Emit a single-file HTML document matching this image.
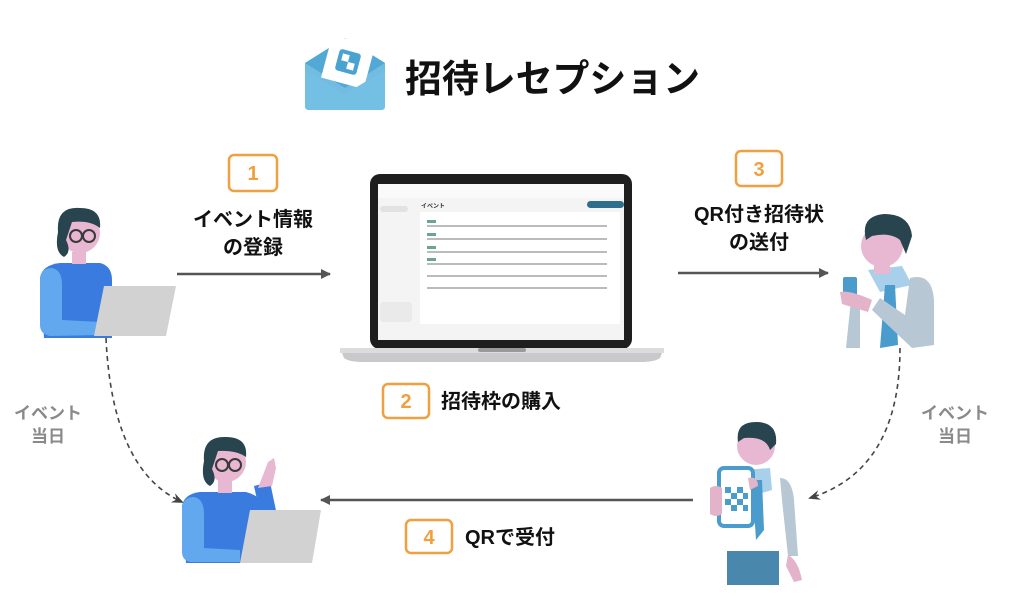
<!DOCTYPE html>
<html><head><meta charset="utf-8"><style>
html,body{margin:0;padding:0;background:#fff;}
svg{display:block;}
text{font-family:"Liberation Sans","Noto Sans CJK JP",sans-serif;}
</style></head><body>
<svg width="1024" height="607" viewBox="0 0 1024 607" xmlns="http://www.w3.org/2000/svg">
<defs>
<marker id="ah" markerWidth="10" markerHeight="10" refX="9" refY="5" orient="auto" markerUnits="userSpaceOnUse" viewBox="0 0 10 10"><path d="M0,0 L10,5 L0,10 Z" fill="#555"/></marker>
<marker id="ah2" markerWidth="12" markerHeight="10" refX="10" refY="5" orient="auto" markerUnits="userSpaceOnUse" viewBox="0 0 12 10"><path d="M0,0 L12,5 L0,10 L4,5 Z" fill="#444"/></marker>
</defs>
<!-- logo -->
<path d="M305,63 L345,38 L385,63 L385,106 Q385,110 381,110 L309,110 Q305,110 305,106 Z" fill="#72bce2"/>
<path d="M305,63 L345,38 L385,63 L345,88 Z" fill="#53a9d6"/>
<g transform="rotate(15 348 62)"><rect x="326" y="40" width="44" height="44" fill="#fff"/>
<rect x="337" y="51" width="22" height="22" rx="3" fill="#4aa2d0"/><rect x="341" y="55" width="7" height="7" fill="#fff"/><rect x="348" y="62" width="7" height="7" fill="#fff"/></g>
<path d="M305,70 L345,94 L385,70 L385,106 Q385,110 381,110 L309,110 Q305,110 305,106 Z" fill="#74bfe4"/>
<text x="405" y="92" font-size="38" font-weight="bold" fill="#111" textLength="295" lengthAdjust="spacingAndGlyphs">招待レセプション</text>

<!-- step boxes -->
<g fill="none" stroke="#f0a040" stroke-width="2.5">
<rect x="229" y="155" width="48" height="36" rx="5"/>
<rect x="383" y="384" width="46" height="34" rx="5"/>
<rect x="736" y="151" width="46" height="35" rx="5"/>
<rect x="406" y="520" width="46" height="33" rx="5"/>
</g>
<g fill="#f0a040" font-size="20" font-weight="bold" text-anchor="middle">
<text x="253" y="180">1</text><text x="406" y="408">2</text><text x="759" y="176">3</text><text x="429" y="544">4</text>
</g>
<g fill="#111" font-size="20" font-weight="bold" text-anchor="middle">
<text x="253" y="226">イベント情報</text><text x="253" y="254">の登録</text>
<text x="759" y="221">QR付き招待状</text><text x="759" y="249">の送付</text>
</g>
<text x="441" y="408" font-size="20" font-weight="bold" fill="#111">招待枠の購入</text>
<text x="465" y="544" font-size="20" font-weight="bold" fill="#111">QRで受付</text>
<g fill="#8a8a8a" font-size="17" font-weight="bold" text-anchor="middle">
<text x="48" y="419">イベント</text><text x="48" y="442">当日</text>
<text x="955" y="419">イベント</text><text x="955" y="442">当日</text>
</g>

<!-- arrows -->
<g stroke="#555" stroke-width="2.5" fill="none">
<line x1="177" y1="274" x2="330" y2="274" marker-end="url(#ah)"/>
<line x1="678" y1="273" x2="828" y2="273" marker-end="url(#ah)"/>
<line x1="693" y1="500" x2="321" y2="500" marker-end="url(#ah)"/>
</g>
<g stroke="#444" stroke-width="1.6" fill="none" stroke-dasharray="5,4">
<path d="M106,338 Q112,470 182,502" marker-end="url(#ah2)"/>
<path d="M900,348 Q900,470 810,498" marker-end="url(#ah2)"/>
</g>

<!-- laptop -->
<rect x="370" y="174" width="262" height="175" rx="10" fill="#1e1e1e"/>
<rect x="378" y="184" width="246" height="156" fill="#f4f4f4"/>
<rect x="378" y="184" width="246" height="14" fill="#fafafa"/>
<rect x="420" y="212" width="200" height="112" fill="#fff"/>
<rect x="587" y="201" width="37" height="7" rx="3.5" fill="#2f6e8c"/>
<text x="421" y="208" font-size="6" font-weight="bold" fill="#333">イベント</text>
<g fill="#bbb"><rect x="427" y="225" width="180" height="2"/><rect x="427" y="238" width="180" height="2"/><rect x="427" y="251" width="180" height="2"/><rect x="427" y="263" width="180" height="2"/><rect x="427" y="275" width="180" height="2"/><rect x="427" y="287" width="180" height="2"/></g>
<g fill="#6aa39a"><rect x="427" y="220" width="9" height="3"/><rect x="427" y="233" width="9" height="3"/><rect x="427" y="246" width="9" height="3"/><rect x="427" y="258" width="9" height="3"/></g>
<rect x="380" y="206" width="28" height="6" rx="3" fill="#e2e2e2"/>
<rect x="380" y="302" width="32" height="20" rx="3" fill="#eaeaea"/>
<path d="M340,348 L664,348 L660,358 Q655,362 640,362 L364,362 Q349,362 344,358 Z" fill="#c9c9cb"/>
<rect x="340" y="348" width="324" height="5" fill="#dcdcde"/>
<rect x="478" y="348" width="48" height="4" rx="2" fill="#9a9a9c"/>

<!-- woman 1 -->
<path d="M40,278 Q42,265 60,263 L100,263 Q112,266 112,280 L112,338 L44,338 Z" fill="#3a7be0"/>
<path d="M40,280 Q40,268 52,268 Q62,270 62,285 L62,320 L100,322 L100,335 L50,336 Q40,334 40,325 Z" fill="#62a8ee"/>
<circle cx="80" cy="233" r="20" fill="#e8b8d2"/>
<path d="M58,232 Q56,206 80,208 Q102,208 100,228 Q90,220 72,222 L66,240 Q72,252 64,257 Q54,252 58,232 Z" fill="#27444f"/>
<circle cx="76" cy="236" r="6" fill="none" stroke="#3a3a3a" stroke-width="2"/><circle cx="89" cy="236" r="6" fill="none" stroke="#3a3a3a" stroke-width="2"/>
<rect x="72" y="252" width="14" height="12" fill="#e8b8d2"/>
<path d="M104,286 L176,286 L166,336 L94,336 Z" fill="#d2d2d2"/>

<!-- woman 2 -->
<path d="M182,506 Q184,494 200,492 L246,492 Q262,496 266,510 L276,563 L186,563 Z" fill="#3a7be0"/>
<path d="M182,510 Q182,497 194,497 Q204,499 204,514 L204,548 L240,550 L240,562 L190,562 Q182,560 182,552 Z" fill="#62a8ee"/>
<path d="M254,486 L270,482 L278,520 L262,522 Z" fill="#3a7be0"/>
<path d="M258,488 L268,462 L274,458 L276,468 L272,486 Z" fill="#e8b8d2"/>
<circle cx="226" cy="462" r="20" fill="#e8b8d2"/>
<path d="M204,461 Q202,436 226,437 Q248,437 246,457 Q236,450 218,451 L212,469 Q218,481 210,486 Q200,481 204,461 Z" fill="#27444f"/>
<circle cx="222" cy="465" r="6" fill="none" stroke="#3a3a3a" stroke-width="2"/><circle cx="235" cy="465" r="6" fill="none" stroke="#3a3a3a" stroke-width="2"/>
<rect x="218" y="480" width="14" height="13" fill="#e8b8d2"/>
<path d="M250,510 L321,510 L312,563 L240,563 Z" fill="#d2d2d2"/>

<!-- man 1 -->
<path d="M856,280 L938,280 L936,340 L850,340 Z" fill="#fff"/>
<path d="M852,290 L846,348 L860,348 L860,300 Z" fill="#b7c7d4"/>
<path d="M868,270 L902,266 L912,285 L880,292 Z" fill="#a8d0ea"/>
<path d="M885,285 L895,285 L898,345 L880,348 Z" fill="#4a9ccc"/>
<path d="M910,278 Q932,272 934,300 L934,345 L912,348 L872,310 L880,298 L905,315 Z" fill="#b7c7d4"/>
<rect x="843" y="277" width="14" height="22" rx="2" fill="#4a9ccc"/>
<path d="M840,292 Q850,290 872,300 L868,312 L842,304 Z" fill="#e2b3c9"/>
<circle cx="882" cy="246" r="21" fill="#e8b8d2"/>
<path d="M866,240 Q860,216 884,214 Q910,214 912,236 L906,254 L900,240 Q890,232 872,236 Z" fill="#27444f"/>
<rect x="874" y="262" width="16" height="12" fill="#e8b8d2"/>

<!-- man 2 -->
<path d="M740,472 L790,472 L796,550 L728,552 Z" fill="#fff"/>
<path d="M780,478 Q792,478 794,500 L798,556 L788,556 L782,500 Z" fill="#b7c7d4"/>
<path d="M788,555 Q798,560 802,580 L794,582 L786,566 Z" fill="#e2b3c9"/>
<path d="M744,470 L770,468 L772,490 L752,496 Z" fill="#a8d0ea"/>
<path d="M752,480 L762,480 L764,530 L756,540 Z" fill="#4a9ccc"/>
<rect x="727" y="551" width="52" height="34" fill="#4a87ad"/>
<circle cx="756" cy="446" r="19" fill="#e8b8d2"/>
<path d="M738,442 Q735,422 756,422 Q778,422 776,444 L770,450 Q766,436 744,438 Z" fill="#27444f"/>
<rect x="719" y="468" width="34" height="58" rx="5" fill="#fff" stroke="#4a9ccc" stroke-width="4"/>
<g fill="#4a9ccc"><rect x="725" y="487" width="6" height="6"/><rect x="737" y="487" width="6" height="6"/><rect x="731" y="493" width="6" height="6"/><rect x="743" y="493" width="5" height="6"/><rect x="725" y="499" width="6" height="6"/><rect x="737" y="499" width="6" height="6"/><rect x="731" y="505" width="6" height="6"/><rect x="743" y="505" width="5" height="6"/></g>
<path d="M710,488 Q716,484 722,488 L722,514 Q716,518 710,514 Z" fill="#e2b3c9"/>
<path d="M748,478 Q758,476 758,486 L750,490 Z" fill="#e2b3c9"/>
</svg>
</body></html>
